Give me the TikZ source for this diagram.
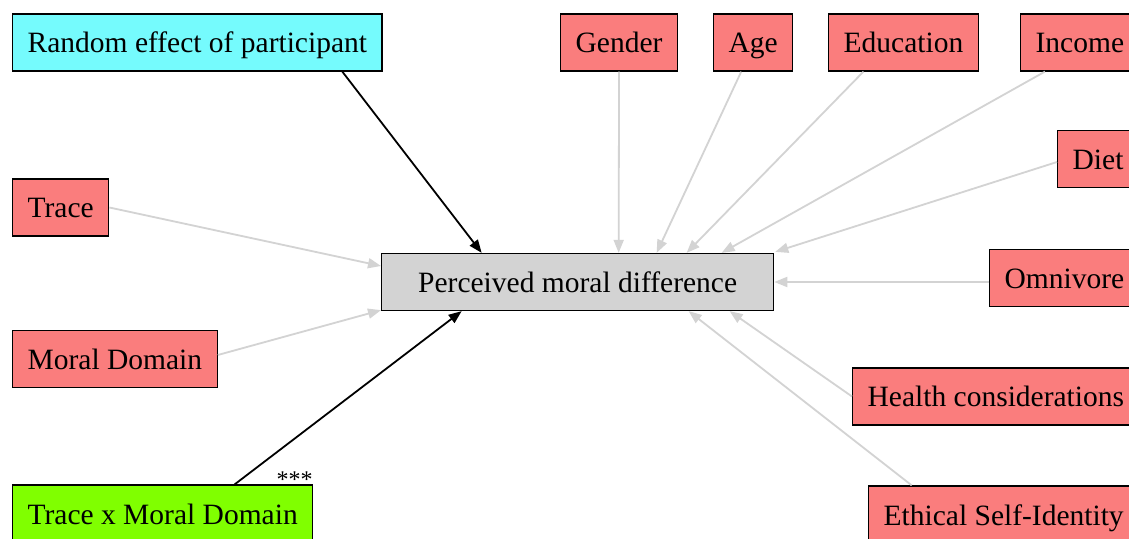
\documentclass[tikz,border=0pt]{standalone}
\usepackage{fontspec}
\setmainfont{Liberation Serif}
\usetikzlibrary{arrows.meta}

\definecolor{covred}{RGB}{250,125,125}
\definecolor{rancyan}{RGB}{117,251,253}
\definecolor{intgreen}{RGB}{128,255,0}
\definecolor{edgegray}{RGB}{211,211,211}

\begin{document}
\begin{tikzpicture}[x=1pt,y=1pt,
    box/.style={draw=black,line width=1.3pt,minimum height=57pt,inner xsep=15pt,anchor=west,
        text height=23pt,text depth=2pt,font=\fontsize{29.5}{29.5}\selectfont},
    cov/.style={box,fill=covred},
    weak/.style={draw=edgegray,line width=1.8pt,-{Triangle[length=13pt,width=10pt]}},
    strong/.style={draw=black,line width=1.8pt,-{Triangle[length=13pt,width=10pt]}}]
    \useasboundingbox (0,0) rectangle (1129,538);
    \clip (0,0) rectangle (1129,538);
    \fill[white] (0,0) rectangle (1129,538);

    \node[box,fill=edgegray,minimum width=392pt] (pmd) at (381,256) {Perceived moral difference};

    \node[box,fill=rancyan] (random) at (12,495.5) {Random effect of participant};
    \node[cov] (gender) at (560,495.5) {Gender};
    \node[cov] (age) at (713,495.5) {Age};
    \node[cov] (education) at (828,495.5) {Education};
    \node[cov] (income) at (1020,495.5) {Income};
    \node[cov] (diet) at (1057,379) {Diet};
    \node[cov] (omnivore) at (989,260) {Omnivore};
    \node[cov] (health) at (852,141.5) {Health considerations};
    \node[cov] (ethical) at (868,23.5) {Ethical Self-Identity};
    \node[cov] (trace) at (12,330.5) {Trace};
    \node[cov] (moral) at (12,179) {Moral Domain};
    \node[box,fill=intgreen] (txmd) at (12,24.5) {Trace x Moral Domain};

    \draw[strong] ([xshift=145pt]random.south) -- ([xshift=-96pt]pmd.north);
    \draw[strong] ([xshift=72pt]txmd.north) -- ([xshift=-116pt]pmd.south)
        node[pos=0,xshift=60pt,yshift=5pt,font=\fontsize{24}{24}\selectfont] (stars) {***};

    \draw[weak] (gender.south) -- ([xshift=41pt]pmd.north);
    \draw[weak] ([xshift=-12pt]age.south) -- ([xshift=79pt]pmd.north);
    \draw[weak] ([xshift=-40pt]education.south) -- ([xshift=109pt]pmd.north);
    \draw[weak] ([xshift=-35pt]income.south) -- ([xshift=144pt]pmd.north);
    \draw[weak] ([yshift=-3pt]diet.west) -- ([xshift=1pt,yshift=1pt]pmd.north east);
    \draw[weak] ([yshift=-4pt]omnivore.west) -- (pmd.east);
    \draw[weak] (health.west) -- ([xshift=152pt]pmd.south);
    \draw[weak] ([xshift=-92pt]ethical.north) -- ([xshift=111pt]pmd.south);
    \draw[weak] (trace.east) -- ([yshift=16pt]pmd.west);
    \draw[weak] ([yshift=4pt]moral.east) -- ([yshift=1pt]pmd.south west);
\end{tikzpicture}
\end{document}
